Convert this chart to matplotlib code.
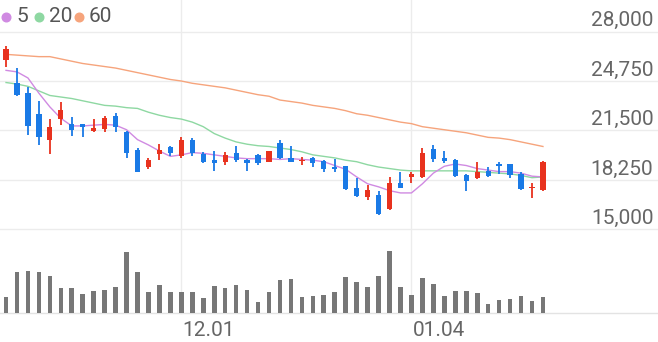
import matplotlib.pyplot as plt
from matplotlib.transforms import blended_transform_factory

# daily candles (KRW)
opens = [26150, 24600, 23950, 22600, 20850, 22250, 21950, 21900, 21450, 21600,
         22450, 21400, 20200, 19100, 19950, 20400, 19800, 20900, 19950, 19550,
         19400, 20050, 19550, 19900, 19450, 20650, 19700, 19500, 19700, 19500,
         19100, 19150, 17750, 17100, 17250, 16350, 18050, 18450, 18450, 20300,
         19700, 19550, 18600, 18350, 18850, 19300, 19300, 18650, 17750, 17600]
highs = [27050, 25600, 24350, 23450, 22250, 23400, 22400, 21950, 22250, 22450,
         22650, 21450, 20350, 19700, 20600, 20500, 21050, 21000, 20100, 20150,
         20100, 20500, 19650, 19950, 20150, 20900, 20500, 19750, 19750, 19550,
         19650, 19200, 18350, 17950, 17550, 18450, 18750, 18750, 20350, 20550,
         20150, 19650, 18650, 19450, 19100, 19400, 19300, 18800, 18050, 19500]
lows = [25700, 23750, 21200, 20550, 19950, 21850, 21150, 21100, 21400, 21400,
        21400, 19700, 18750, 19000, 19550, 19800, 19700, 19800, 19350, 18850,
        19250, 19400, 18850, 19250, 19400, 19650, 19400, 19250, 19100, 18800,
        18800, 17600, 17100, 16950, 15950, 16300, 17700, 18050, 18400, 19400,
        19350, 18450, 17550, 18300, 18450, 18650, 18400, 17600, 17050, 17550]
closes = [26850, 23850, 21800, 21100, 21750, 22850, 21500, 21750, 21650, 22350,
          21700, 20000, 18800, 19550, 20200, 20050, 20900, 20050, 19450, 19350,
          19900, 19550, 19350, 19350, 20150, 19700, 19450, 19550, 19350, 18950,
          18950, 17650, 17200, 17600, 16000, 18050, 17750, 18650, 20050, 19650,
          19500, 18500, 18200, 18750, 18500, 19200, 18550, 17650, 17800, 19450]

ma5 = [25450, 25350, 24950, 23950, 23050, 22300, 21800, 21800, 21850, 21900,
       21850, 21550, 20900, 20550, 20150, 19800, 19900, 20050, 20000, 19900,
       19800, 19700, 19650, 19650, 19650, 19600, 19650, 19600, 19550, 19450,
       19200, 18950, 18450, 18000, 17800, 17550, 17400, 17400, 18000, 18700,
       19150, 19300, 19200, 19000, 18900, 18800, 18800, 18700, 18500, 18450]
ma20 = [24650, 24550, 24400, 24100, 23800, 23700, 23600, 23450, 23300, 23150,
        23100, 23000, 22950, 22700, 22500, 22350, 22250, 22050, 21750, 21300,
        21000, 20750, 20600, 20500, 20450, 20350, 20250, 20100, 19900, 19800,
        19700, 19550, 19450, 19250, 19100, 19000, 18900, 18850, 18850, 18850,
        18850, 18850, 18850, 18800, 18750, 18700, 18650, 18550, 18400, 18450]
ma60 = [26500, 26450, 26400, 26350, 26350, 26200, 26050, 25900, 25800, 25700,
        25600, 25450, 25300, 25150, 25000, 24850, 24750, 24600, 24500, 24400,
        24300, 24150, 24000, 23850, 23750, 23500, 23400, 23300, 23150, 23050,
        22950, 22800, 22600, 22500, 22350, 22200, 22050, 21950, 21750, 21650,
        21550, 21450, 21350, 21200, 21050, 21000, 20900, 20750, 20600, 20450]

volumes = [163000, 410000, 420000, 413000, 373000, 247000, 250000, 187000, 217000, 230000,
           263000, 613000, 410000, 213000, 280000, 207000, 213000, 213000, 147000, 267000,
           247000, 280000, 230000, 113000, 207000, 330000, 337000, 157000, 167000, 180000,
           213000, 357000, 307000, 257000, 367000, 620000, 257000, 180000, 350000, 287000,
           173000, 220000, 217000, 197000, 87000, 130000, 140000, 170000, 120000, 163000]

price_ticks = [15000, 18250, 21500, 24750, 28000]
date_labels = ["12.01", "01.04"]
date_idx = [16, 37]

ma_names = ["5", "20", "60"]
ma_colors = ["#d08ae2", "#8ed8a2", "#f6a47c"]

plt.rcParams['font.family'] = ['Roboto', 'DejaVu Sans']

fig = plt.figure(figsize=(6.58, 3.42), dpi=100)
ax = fig.add_axes([0, 0, 1, 1])
vax = ax.twinx()
ax.axis('off')
vax.axis('off')

n = len(closes)
idx = list(range(n))
ax.set_xlim(-0.55, 59.5)
ax.set_ylim(7610, 30070)
vax.set_ylim(-290000, 3130000)

grid_c = '#ececec'
for v in price_ticks:
    ax.axhline(v, color=grid_c, lw=1, zorder=0)
for p in date_idx:
    ax.axvline(p, ymin=29 / 342, ymax=1, color=grid_c, lw=1, zorder=0)
vax.axhline(0, color='#e3e3e3', lw=1, zorder=0)

# moving averages
for vals, c in zip([ma60, ma20, ma5], [ma_colors[2], ma_colors[1], ma_colors[0]]):
    ax.plot(idx, vals, color=c, lw=1.0, zorder=1)

# candles
up_c, down_c = '#e8321e', '#1a7ae6'
colors = [up_c if c >= o else down_c for o, c in zip(opens, closes)]
ax.vlines(idx, lows, highs, colors=colors, lw=1.3, zorder=2)
bottoms = [min(o, c) for o, c in zip(opens, closes)]
heights = [max(abs(c - o), 50) for o, c in zip(opens, closes)]
ax.bar(idx, heights, bottom=bottoms, width=0.48, color=colors, lw=0, zorder=3)

# volume
vax.bar(idx, volumes, width=0.42, color='#777777', lw=0)

# price labels on the right
tr = blended_transform_factory(ax.transAxes, ax.transData)
for v in price_ticks:
    ax.text(0.993, v + 340, f"{v:,}", transform=tr, ha='right', va='baseline',
            fontsize=15, color='#666666')

# date labels
tr2 = blended_transform_factory(ax.transData, ax.transAxes)
for p, lab in zip(date_idx, date_labels):
    ax.text(p + 0.1, 0.034, lab, transform=tr2, ha='left', va='center',
            fontsize=15, color='#666666')

# legend
dot_x = [6, 39, 78.5]
for x, name, c in zip(dot_x, ma_names, ma_colors):
    ax.plot([x / 658], [1 - 17 / 342], 'o', ms=6.2, color=c, transform=ax.transAxes,
            clip_on=False)
    fig.text((x + 10.5) / 658, 1 - 17 / 342, name, ha='left', va='center',
             fontsize=15, color='#555555')

fig.savefig('out.png', dpi=100)
